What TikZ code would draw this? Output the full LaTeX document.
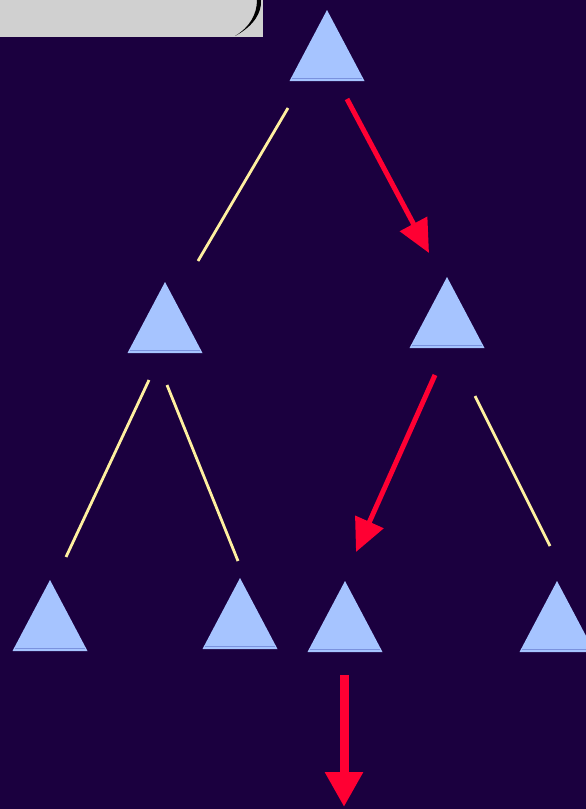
\documentclass[tikz,border=0pt]{standalone}
\usetikzlibrary{arrows.meta}
\definecolor{nightbg}{RGB}{27,0,63}
\definecolor{boxgray}{RGB}{208,208,208}
\definecolor{treeblue}{RGB}{166,196,255}
\definecolor{baseblue}{RGB}{122,146,222}
\definecolor{edgeyellow}{RGB}{255,240,160}
\definecolor{pathred}{RGB}{255,0,51}
\tikzset{
  edge/.style={draw=edgeyellow, line width=2.8pt},
  walk/.style={draw=pathred, line width=5pt, -{Triangle[length=33pt,width=30pt]}},
  walkdown/.style={draw=pathred, line width=9pt, -{Triangle[length=35pt,width=36pt]}}
}
\newcommand{\treetri}[1]{%
  \fill[treeblue] (#1) -- ++(-37.5,71) -- ++(75,0) -- cycle;
  \draw[baseblue, line width=1pt] ([shift={(-35,68.5)}]#1) -- ++(70,0);
}
\begin{document}
\begin{tikzpicture}[x=1pt,y=-1pt]

\fill[nightbg] (0,0) rectangle (586,809);
\useasboundingbox (0,0) rectangle (586,809);

% box in the corner
\fill[boxgray] (0,0) rectangle (263,37);
\fill[black] (235,36) .. controls (254,26) and (262,12) .. (261,0) -- (257,0)
  .. controls (257,14) and (250,27) .. cycle;

% tree
\coordinate (root) at (327,10);
\coordinate (left) at (165,282);
\coordinate (right) at (447,277);
\coordinate (ll) at (50,580);
\coordinate (lr) at (240,578);
\coordinate (rl) at (345,581);
\coordinate (rr) at (557,581);

\foreach \t in {root,left,right,ll,lr,rl,rr}
  {\treetri{\t}}

% ends of the edges
\coordinate (root-l) at (288,108);
\coordinate (left-u) at (198,261);
\coordinate (left-l) at (149,380);
\coordinate (ll-u) at (66,557);
\coordinate (left-r) at (167,385);
\coordinate (lr-u) at (238,561);
\coordinate (right-r) at (475,396);
\coordinate (rr-u) at (550,546);
\coordinate (root-r) at (347,99);
\coordinate (right-u) at (429,253);
\coordinate (right-l) at (435,375);
\coordinate (rl-u) at (356,552);
\coordinate (rl-d) at (344,675);
\coordinate (out) at (344,807);

\draw[edge] (root-l) -- (left-u);
\draw[edge] (left-l) -- (ll-u);
\draw[edge] (left-r) -- (lr-u);
\draw[edge] (right-r) -- (rr-u);

\draw[walk] (root-r) -- (right-u);
\draw[walk] (right-l) -- (rl-u);
\draw[walkdown] (rl-d) -- (out);

\end{tikzpicture}
\end{document}
